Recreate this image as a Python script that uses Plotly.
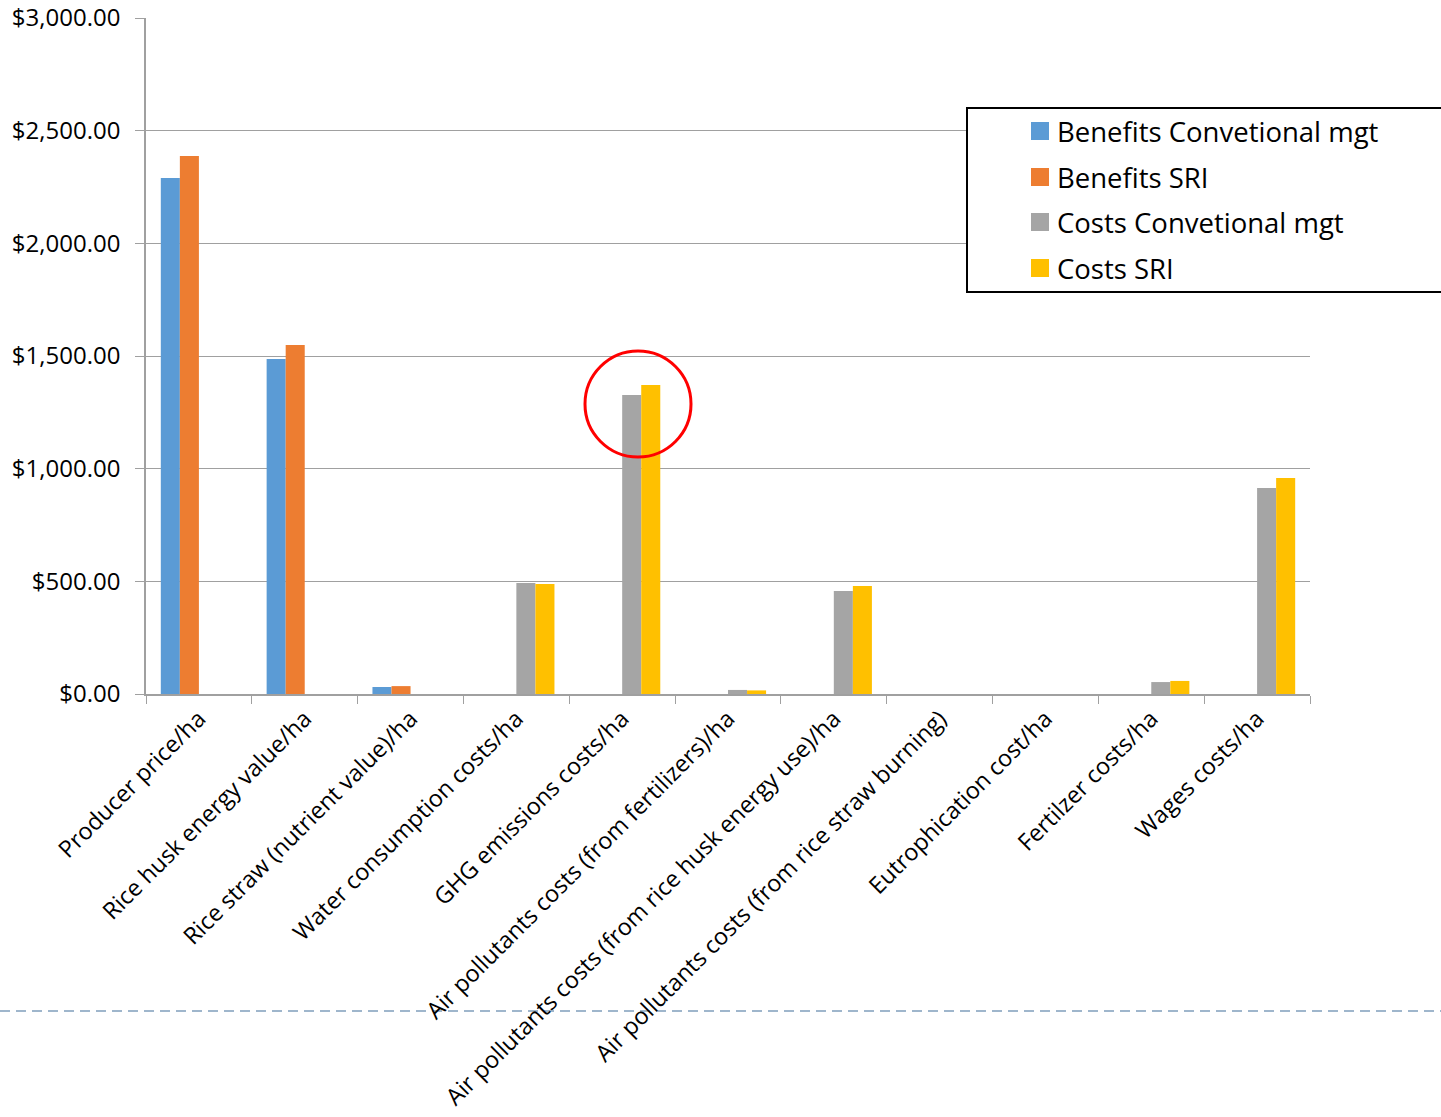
import plotly.graph_objects as go

categories = [
    "Producer price/ha",
    "Rice husk energy value/ha",
    "Rice straw (nutrient value)/ha",
    "Water consumption costs/ha",
    "GHG emissions costs/ha",
    "Air pollutants costs (from fertilizers)/ha",
    "Air pollutants costs (from rice husk energy use)/ha",
    "Air pollutants costs (from rice straw burning)",
    "Eutrophication cost/ha",
    "Fertilzer costs/ha",
    "Wages costs/ha",
]
benefits_conv = [2290, 1487, 31, 0, 0, 0, 0, 0, 0, 0, 0]
benefits_sri = [2388, 1549, 35, 0, 0, 0, 0, 0, 0, 0, 0]
costs_conv = [0, 0, 0, 493, 1327, 18, 457, 0, 0, 53, 914]
costs_sri = [0, 0, 0, 488, 1371, 16, 479, 0, 0, 58, 959]

series_names = ["Benefits Convetional mgt", "Benefits SRI", "Costs Convetional mgt", "Costs SRI"]
series_colors = ["#5b9bd5", "#ed7d31", "#a5a5a5", "#ffc000"]
series_values = [benefits_conv, benefits_sri, costs_conv, costs_sri]

FONT = "Open Sans"
W, H = 1441, 1117
L, R, T, B = 146, 1310, 18, 694
pw, ph = R - L, B - T

def px(x):
    return (x - L) / pw

def py(y):
    return (B - y) / ph

fig = go.Figure()
for name, color, vals in zip(series_names, series_colors, series_values):
    fig.add_trace(go.Bar(x=categories, y=vals, name=name, marker=dict(color=color, line=dict(width=0)),
                         showlegend=False))

shapes = []
annotations = []
# legend box
shapes.append(dict(type="rect", xref="paper", yref="paper", x0=px(967), x1=px(1446), y0=py(292), y1=py(108),
                   line=dict(color="black", width=2), fillcolor="white"))
legend_y = [131, 177, 222, 268]
for name, color, ly in zip(series_names, series_colors, legend_y):
    shapes.append(dict(type="rect", xref="paper", yref="paper", x0=px(1031), x1=px(1049), y0=py(ly + 9), y1=py(ly - 9),
                       line=dict(width=0), fillcolor=color))
    annotations.append(dict(xref="paper", yref="paper", x=px(1055), y=py(ly), text=name, showarrow=False,
                            xanchor="left", yanchor="middle", font=dict(family=FONT, size=27.5, color="black")))
# red circle
shapes.append(dict(type="circle", xref="paper", yref="paper", x0=px(585), x1=px(691), y0=py(457), y1=py(351),
                   line=dict(color="#ff0000", width=3)))
# dashed separator line
shapes.append(dict(type="line", xref="paper", yref="paper", x0=px(0), x1=px(W), y0=py(1011), y1=py(1011),
                   line=dict(color="#9fb6cc", width=2, dash="10px,6px"), layer="below"))

fig.update_layout(
    width=W, height=H,
    margin=dict(l=L, r=W - R, t=T, b=H - B, autoexpand=False),
    paper_bgcolor="white", plot_bgcolor="white",
    barmode="group", bargap=0.28, bargroupgap=0,
    font=dict(family=FONT, color="black"),
    shapes=shapes, annotations=annotations,
    showlegend=False,
)
fig.update_xaxes(
    type="category", tickangle=-45, tickfont=dict(family=FONT, size=23.4, color="black"),
    showline=True, linecolor="#a0a0a0", linewidth=1.5, ticks="outside", ticklen=8, tickcolor="#a0a0a0",
    tickson="boundaries", showgrid=False, mirror=False,
)
fig.update_yaxes(
    range=[0, 3000], tickvals=[0, 500, 1000, 1500, 2000, 2500, 3000], tickformat="$,.2f",
    tickfont=dict(family=FONT, size=24, color="black"),
    showline=True, linecolor="#a0a0a0", linewidth=1.5, ticks="outside", ticklen=9, tickcolor="#a0a0a0",
    showgrid=True, gridcolor="#a0a0a0", gridwidth=1.2, zeroline=False, ticklabelstandoff=10,
)
fig.write_html("out.html")
